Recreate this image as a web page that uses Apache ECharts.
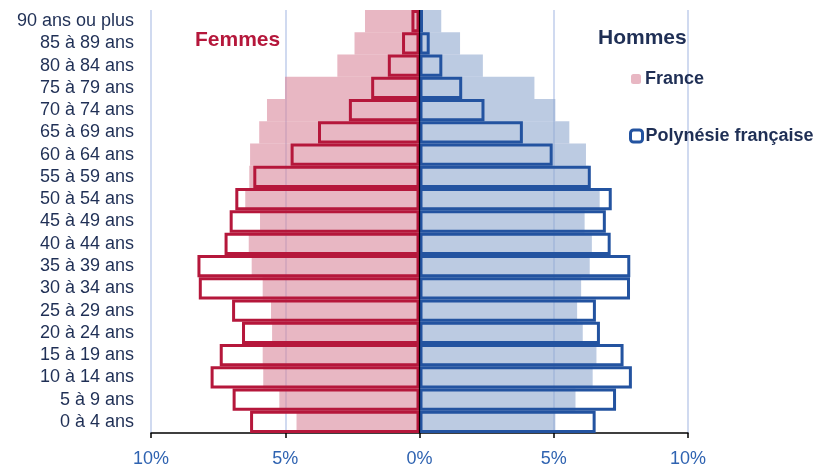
<!DOCTYPE html>
<html>
<head>
<meta charset="utf-8">
<script src="https://cdn.jsdelivr.net/npm/echarts@6/dist/echarts.min.js"></script>
<style>
html,body{margin:0;padding:0;background:#fff;}
#chart{width:819px;height:464px;}
</style>
</head>
<body>
<div id="chart"></div>
<script>
// Categories, bottom to top
const categories = ['0 à 4 ans','5 à 9 ans','10 à 14 ans','15 à 19 ans','20 à 24 ans','25 à 29 ans','30 à 34 ans','35 à 39 ans','40 à 44 ans','45 à 49 ans','50 à 54 ans','55 à 59 ans','60 à 64 ans','65 à 69 ans','70 à 74 ans','75 à 79 ans','80 à 84 ans','85 à 89 ans','90 ans ou plus'];

// Shares of population (%)
const franceFemmes = [4.58,5.22,5.82,5.84,5.49,5.53,5.84,6.25,6.36,5.94,6.49,6.34,6.31,5.97,5.68,5.01,3.06,2.42,2.03];
const franceHommes = [5.06,5.81,6.45,6.59,6.08,5.87,6.02,6.34,6.42,6.15,6.71,6.30,6.20,5.58,5.06,4.28,2.36,1.51,0.81];
const polyFemmes   = [6.31,6.96,7.78,7.44,6.61,6.98,8.22,8.27,7.26,7.07,6.86,6.19,4.80,3.78,2.63,1.80,1.18,0.65,0.30];
const polyHommes   = [6.56,7.32,7.91,7.60,6.72,6.57,7.84,7.85,7.12,6.94,7.16,6.38,4.96,3.85,2.42,1.59,0.85,0.38,0.13];

const xTicks = [-10,-5,0,5,10];

const FONT = '"Liberation Sans", Arial, sans-serif';
const NAVY = '#1f2f55';
const RED = '#b5173b';
const BLUE = '#2353a0';

const chart = echarts.init(document.getElementById('chart'), null, {renderer:'canvas'});
chart.setOption({
  animation:false,
  textStyle:{fontFamily:FONT},
  grid:{left:151,right:131,top:10,bottom:31,containLabel:false,outerBoundsMode:'none'},
  xAxis:{
    type:'value', min:xTicks[0], max:xTicks[xTicks.length-1], interval:5,
    axisLine:{show:true,onZero:false,lineStyle:{color:'#000',width:1.5}},
    axisTick:{show:true,length:5,lineStyle:{color:'#000',width:1.5}},
    splitLine:{show:true,lineStyle:{color:'#d0daf0',width:2}},
    axisLabel:{color:'#2f63b1',fontSize:18,fontFamily:FONT,margin:17,
      formatter:v=>Math.abs(v)+'%'}
  },
  yAxis:{
    type:'category', data:categories,
    axisLine:{show:false,onZero:false},
    axisTick:{show:false},
    splitLine:{show:false},
    axisLabel:{color:NAVY,fontSize:18,fontFamily:FONT,margin:17,interval:0}
  },
  legend:[
    {data:[{name:'France',itemStyle:{color:'#e8b7c3',borderWidth:0}}],
     left:631,top:70,padding:0,itemWidth:10,itemHeight:10,
     textStyle:{color:NAVY,fontSize:18,fontWeight:'bold',fontFamily:FONT,padding:[0,0,0,-1]},
     selectedMode:false},
    {data:[{name:'Polynésie française',itemStyle:{color:'#ffffff',borderColor:BLUE,borderWidth:3}}],
     left:629,top:127,padding:0,itemWidth:12,itemHeight:12,
     textStyle:{color:NAVY,fontSize:18,fontWeight:'bold',fontFamily:FONT,padding:[0,0,0,-2]},
     selectedMode:false}
  ],
  graphic:[
    {type:'text',left:195,top:30,style:{text:'Femmes',fill:RED,font:'bold 21px '+FONT}},
    {type:'text',left:598,top:28,style:{text:'Hommes',fill:NAVY,font:'bold 21px '+FONT}}
  ],
  series:[
    {name:'France',type:'bar',data:franceFemmes.map(v=>-v),barGap:'-100%',barCategoryGap:0,
     itemStyle:{color:'rgba(217,135,155,0.6)'},silent:true},
    {name:'France',type:'bar',data:franceHommes,barGap:'-100%',barCategoryGap:0,
     itemStyle:{color:'rgba(143,168,207,0.6)'},silent:true},
    {name:'Polynésie française',type:'bar',data:polyFemmes.map(v=>-v),barGap:'-100%',barCategoryGap:0,
     itemStyle:{color:'rgba(0,0,0,0)',borderColor:RED,borderWidth:3},silent:true},
    {name:'Polynésie française',type:'bar',data:polyHommes,barGap:'-100%',barCategoryGap:0,
     itemStyle:{color:'rgba(0,0,0,0)',borderColor:BLUE,borderWidth:3},silent:true,
     markLine:{silent:true,symbol:'none',label:{show:false},
       lineStyle:{color:'#000',width:1.2,type:'solid'},
       data:[{xAxis:0}]}}
  ]
});
</script>
</body>
</html>
